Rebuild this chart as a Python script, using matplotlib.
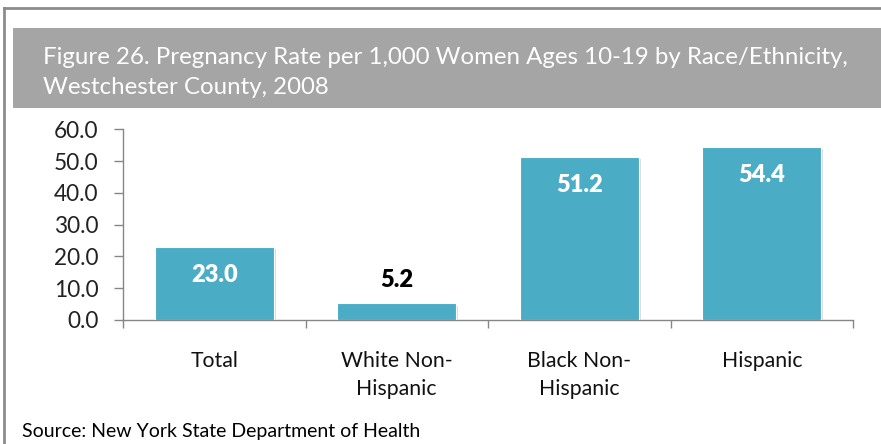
import matplotlib.pyplot as plt
from matplotlib.patches import Rectangle
from matplotlib.lines import Line2D
import matplotlib.patheffects as pe

# === DATA ===
categories = ['Total', 'White Non-\nHispanic', 'Black Non-\nHispanic', 'Hispanic']
rates = [23.0, 5.2, 51.2, 54.4]
yticks = [0, 10, 20, 30, 40, 50, 60]

plt.rcParams['font.family'] = ['Lato', 'DejaVu Sans']

fig = plt.figure(figsize=(8.81, 4.44), dpi=100)
W, H = 881, 444

# outer frame (top and left edges visible)
fig.add_artist(Line2D([4 / W, 4 / W], [0, 1 - 8 / H], transform=fig.transFigure,
                      color='#8c8c8c', lw=2))
fig.add_artist(Line2D([4 / W, 1], [1 - 8 / H, 1 - 8 / H], transform=fig.transFigure,
                      color='#8c8c8c', lw=2))

# title banner
fig.add_artist(Rectangle((13 / W, 1 - 108 / H), 1 - 13 / W, 80 / H,
                         transform=fig.transFigure, facecolor='#a5a5a5', edgecolor='none'))
fig.text(43 / W, 1 - 57 / H, 'Figure 26. Pregnancy Rate per 1,000 Women Ages 10-19 by Race/Ethnicity,',
         color='white', fontsize=17.3, va='center', ha='left')
fig.text(43 / W, 1 - 88 / H, 'Westchester County, 2008',
         color='white', fontsize=17.3, va='center', ha='left')

# chart
ax = fig.add_axes([123 / W, 1 - 320 / H, 730 / W, 190.7 / H])
x = range(len(categories))
bars = ax.bar(x, rates, width=0.65, color='#4bacc6', edgecolor='white', linewidth=0.8, zorder=3)
for b in bars:
    b.set_path_effects([pe.SimplePatchShadow(offset=(1.5, -1.5), shadow_rgbFace='#bbbbbb', alpha=0.5),
                        pe.Normal()])

for i, v in enumerate(rates):
    if v > 10:
        ax.annotate(f'{v:.1f}', (i, v), xytext=(0, -28), textcoords='offset pixels',
                    ha='center', va='center', color='white', fontsize=17, fontweight='heavy', zorder=4)
    else:
        ax.annotate(f'{v:.1f}', (i, v), xytext=(0, 23), textcoords='offset pixels',
                    ha='center', va='center', color='black', fontsize=17, fontweight='heavy', zorder=4)

ax.set_xlim(-0.5, len(categories) - 0.5)
ax.set_ylim(0, 60)
ax.set_yticks(yticks)
ax.set_yticklabels([f'{t:.1f}' for t in yticks])
ax.set_xticks(list(x))
ax.set_xticklabels(categories, linespacing=1.5, fontsize=15.3)
ax.set_xticks([i - 0.5 for i in range(len(categories) + 1)], minor=True)

for s in ['top', 'right']:
    ax.spines[s].set_visible(False)
for s in ['left', 'bottom']:
    ax.spines[s].set_color('#868686')
    ax.spines[s].set_linewidth(1)

ax.tick_params(axis='y', length=6.5, width=1, color='#868686', labelsize=16.3, pad=11, labelcolor='#222222')
ax.tick_params(axis='x', which='major', length=0, pad=22, labelcolor='#111111')
ax.tick_params(axis='x', which='minor', length=6, width=1, color='#868686')

fig.text(22 / W, 1 - 431 / H, 'Source: New York State Department of Health',
         fontsize=14, va='center', ha='left', color='black')

plt.savefig('out.png', dpi=100)
